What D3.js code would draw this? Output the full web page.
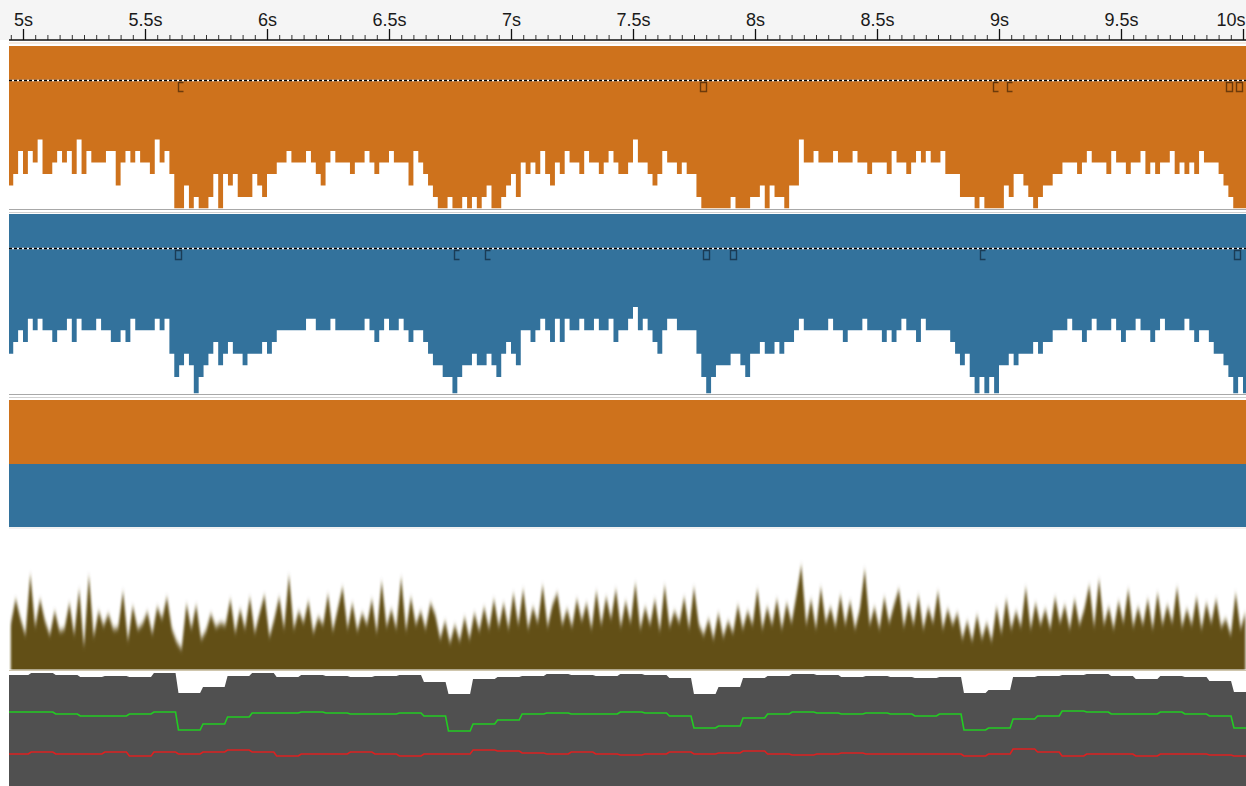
<!DOCTYPE html>
<html>
<head>
<meta charset="utf-8">
<script src="https://cdn.jsdelivr.net/npm/d3@7"></script>
<style>
  body { margin: 0; background: #fff; }
  svg { display: block; font-family: "Liberation Sans", Arial, sans-serif; }
</style>
</head>
<body>
<script>
// time axis
var majorTicks = [5, 5.5, 6, 6.5, 7, 7.5, 8, 8.5, 9, 9.5, 10];
var tickLabels = ["5s", "5.5s", "6s", "6.5s", "7s", "7.5s", "8s", "8.5s", "9s", "9.5s", "10s"];

// cpu samples, one every 20ms from 4.94s (idle level, 0 = fully busy)
var binStart = 4.94, binSize = 0.02;
var orangeCpu = [2,3,5,3,5,4,6,3,3,4,5,4,5,3,6,3,5,4,4,4,5,5,2,4,5,4,5,4,4,3,6,4,5,3,
  0,0,2,0,1,0,0,1,3,0,3,2,3,1,1,1,3,2,1,3,3,
  4,4,5,4,4,4,5,4,3,2,4,5,4,4,4,3,4,4,5,4,3,4,4,5,4,4,4,2,5,4,3,2,1,
  0,0,1,0,0,1,0,1,0,1,2,0,0,1,2,3,1,
  4,3,4,3,5,3,2,4,3,5,4,4,3,5,4,4,3,4,5,4,3,3,4,6,4,4,3,2,3,5,4,4,3,4,3,3,1,
  0,0,0,0,0,0,1,0,0,0,1,1,2,0,2,1,1,0,2,2,
  6,4,4,5,4,4,4,5,4,4,4,5,4,4,3,4,4,4,3,5,4,4,3,4,5,4,5,4,4,5,3,3,3,
  1,1,1,0,1,0,0,0,0,2,1,3,3,2,1,0,1,2,2,3,
  3,4,4,4,3,4,5,4,4,4,3,5,4,4,3,4,4,5,3,4,3,4,4,5,3,4,3,4,3,5,4,4,4,3,2,1,0,0,0];
var blueCpu = [3,4,5,4,6,5,6,5,5,4,5,5,6,4,6,5,5,5,6,5,5,4,4,5,4,6,5,5,5,5,6,5,6,3,
  1,2,3,2,0,1,2,3,4,2,3,4,3,3,2,3,3,3,4,3,4,
  5,5,5,5,5,5,6,6,5,5,5,6,5,5,5,5,5,5,6,5,4,5,6,5,5,6,5,4,5,5,4,3,2,
  2,1,1,0,1,2,2,3,2,2,3,2,1,3,4,3,2,
  5,5,4,5,6,5,4,6,4,6,5,5,6,5,5,6,5,5,6,4,5,5,6,7,5,6,5,4,3,5,6,6,5,5,5,5,3,
  1,0,1,2,2,2,3,3,2,1,3,3,4,3,3,4,3,4,4,5,
  6,5,5,5,5,5,6,5,5,4,5,5,5,6,5,5,5,4,5,4,5,6,5,5,4,6,5,5,5,5,5,4,3,
  2,3,1,0,1,0,1,0,2,2,3,2,3,3,3,4,3,4,4,5,
  5,5,6,5,5,4,5,6,5,5,5,6,5,4,5,5,6,5,5,4,5,6,5,5,5,5,6,5,4,5,5,4,3,3,2,1,0,1,0];

// markers under the dashed line
var orangeMarks = [[5.635, "open"], [7.775, "box"], [8.975, "open"], [9.033, "open"], [9.930, "box"], [9.971, "box"]];
var blueMarks = [[5.623, "box"], [6.766, "open"], [6.893, "open"], [7.787, "box"], [7.898, "box"], [8.922, "open"], [9.963, "box"]];

// brown rate graph, same 20ms bins
var brownRate = [45,70,50,34,95,42,70,48,34,58,38,40,66,34,80,22,94,32,58,43,
  55,40,41,78,28,63,40,45,57,35,62,50,72,40,27,20,65,40,64,30,
  38,55,42,46,44,70,36,60,40,72,36,56,74,32,50,72,40,94,40,58,
  46,68,36,52,44,75,38,60,82,40,66,38,56,44,70,36,88,42,60,40,
  92,38,72,44,58,40,66,54,30,48,26,44,28,52,30,56,38,62,40,70,
  42,66,40,76,44,80,40,62,46,84,42,64,76,44,60,42,70,48,66,40,
  78,44,72,50,80,42,68,46,86,40,62,44,70,38,84,42,58,46,72,40,
  82,44,34,50,30,56,32,48,36,64,40,58,44,80,40,62,44,70,40,66,
  46,74,104,44,70,40,82,46,62,42,74,44,68,40,60,100,44,62,40,72,
  46,64,80,42,66,44,74,40,62,46,78,40,60,44,56,30,48,28,54,30,
  46,28,62,36,70,40,58,42,82,40,66,44,60,40,72,46,64,40,70,44,
  60,84,42,90,44,62,40,68,46,80,42,62,44,70,40,76,44,64,46,82,
  42,60,44,72,40,66,46,70,42,50,34,76,40,56];

// stepped graphs, one value per ~100ms
var stepStart = 4.927, stepSize = 0.1006;
var grayLevel = [111,113,111,109,110,109,113,93,99,110,113,109,111,
  110,109,110,111,104,92,107,109,110,112,111,110,112,111,108,92,99,108,110,112,111,109,110,
  109,108,109,93,96,109,110,111,112,110,107,110,109,105,94];
var greenLevel = [74,74,72,70,70,72,74,56,62,69,73,73,74,
  73,72,72,73,70,55,62,66,72,73,72,72,74,73,70,58,60,68,72,74,73,72,73,
  72,70,72,56,58,67,70,75,74,72,72,74,72,70,58];
var redLevel = [32,34,32,32,34,30,34,32,34,36,34,30,32,
  32,34,32,30,32,32,36,35,33,32,34,32,31,32,34,32,33,35,32,31,32,33,32,
  32,32,32,30,32,37,34,30,32,32,30,32,32,31,30];

var W = 1246, H = 786, left = 9;
var orange = "#ce721c", blue = "#33729c", brown = "#624f19", gray = "#505050";

var svg = d3.select("body").append("svg").attr("width", W).attr("height", H);
var defs = svg.append("defs");
defs.append("clipPath").attr("id", "plot").append("rect")
  .attr("x", left).attr("y", 0).attr("width", W - left).attr("height", H);
defs.append("clipPath").attr("id", "brownclip").append("rect")
  .attr("x", left).attr("y", 529).attr("width", W - left).attr("height", 140.5);
defs.append("filter").attr("id", "soft").attr("x", "-5%").attr("y", "-20%").attr("width", "110%").attr("height", "140%")
  .append("feGaussianBlur").attr("stdDeviation", "0.8 3");

var x = d3.scaleLinear().domain([5, 10]).range([23, 1243]);

// header
svg.append("rect").attr("x", 0).attr("y", 0).attr("width", W).attr("height", 40).attr("fill", "#f5f5f5");

var minorTicks = d3.range(99, 202).map(function(d) { return d / 20; });
svg.append("g").attr("transform", "translate(0,40)")
  .call(d3.axisTop(x).tickValues(minorTicks).tickSize(5).tickFormat(""))
  .call(function(g) { g.select(".domain").remove(); g.selectAll("line").attr("stroke", "#333"); });
svg.append("g").attr("transform", "translate(0,40)")
  .call(d3.axisTop(x).tickValues(majorTicks).tickSize(11).tickPadding(3)
    .tickFormat(function(d, i) { return tickLabels[i]; }))
  .call(function(g) {
    g.select(".domain").remove();
    g.selectAll("line").attr("stroke", "#111").attr("stroke-width", 1.3);
    g.selectAll("text").attr("font-size", 18).attr("fill", "#1a1a1a")
      .attr("font-family", "'Liberation Sans', Arial, sans-serif")
      .attr("text-anchor", function(d) { return d == 10 ? "end" : "middle"; })
      .attr("dx", function(d) { return d == 10 ? 2 : 0; });
  });
svg.append("line").attr("x1", left).attr("x2", W).attr("y1", 40).attr("y2", 40).attr("stroke", "#111").attr("stroke-width", 1.3);
svg.append("line").attr("x1", left).attr("x2", W).attr("y1", 43).attr("y2", 43).attr("stroke", "#ecd6c0").attr("stroke-width", 1);

var plot = svg.append("g").attr("clip-path", "url(#plot)");

// cpu tracks
function cpuTrack(data, top, yScale, color, dashY, marks, markColor) {
  var bottom = yScale(0);
  plot.append("rect").attr("x", left).attr("y", top).attr("width", W - left).attr("height", bottom - top).attr("fill", color);
  var pts = data.map(function(v, i) { return [binStart + i * binSize, v]; });
  pts.push([binStart + data.length * binSize, data[data.length - 1]]);
  var area = d3.area().curve(d3.curveStepAfter)
    .x(function(d) { return x(d[0]); })
    .y0(bottom + 1).y1(function(d) { return yScale(d[1]); });
  plot.append("path").datum(pts).attr("d", area).attr("fill", "#fff");
  plot.append("line").attr("x1", left).attr("x2", W).attr("y1", dashY + 0.5).attr("y2", dashY + 0.5)
    .attr("stroke", "#fff").attr("stroke-width", 1.5);
  plot.append("line").attr("x1", left).attr("x2", W).attr("y1", dashY + 0.5).attr("y2", dashY + 0.5)
    .attr("stroke", "#000").attr("stroke-width", 1.5).attr("stroke-dasharray", "3,2");
  plot.selectAll(null).data(marks).enter().append("path")
    .attr("d", function(d) {
      var mx = Math.round(x(d[0])) + 0.5, y0 = dashY + 2.5, y1 = dashY + 11.5;
      if (d[1] == "box") return "M" + mx + "," + y0 + "h6v" + (y1 - y0) + "h-6z";
      return "M" + (mx + 5) + "," + y0 + "H" + mx + "V" + y1 + "H" + (mx + 5);
    })
    .attr("fill", "none").attr("stroke", markColor).attr("stroke-width", 1.4).attr("opacity", 0.85);
}

var yOrange = d3.scaleLinear().domain([0, 1, 6]).range([208.5, 197, 139.5]);
var yBlue = d3.scaleLinear().domain([0, 1, 7]).range([393.5, 377, 307]);
cpuTrack(orangeCpu, 46, yOrange, orange, 80, orangeMarks, "#5a3008");
cpuTrack(blueCpu, 214, yBlue, blue, 248, blueMarks, "#16324a");

function hline(y, c) {
  svg.append("line").attr("x1", left).attr("x2", W).attr("y1", y).attr("y2", y).attr("stroke", c).attr("stroke-width", 1);
}
hline(209.5, "#a8a8a8"); hline(212.5, "#d0d0d0");
hline(394.5, "#a8a8a8"); hline(397.5, "#d0d0d0");

// flat bars
plot.append("rect").attr("x", left).attr("y", 400).attr("width", W - left).attr("height", 64).attr("fill", orange);
plot.append("rect").attr("x", left).attr("y", 464).attr("width", W - left).attr("height", 63).attr("fill", blue);
hline(528, "#e4e4e4");

// brown rate graph
var yBrown = d3.scaleLinear().domain([0, 110]).range([669, 559]);
var brownArea = d3.area().curve(d3.curveLinear)
  .x(function(d, i) { return x(binStart + (i + 0.5) * binSize); })
  .y0(690).y1(function(d) { return yBrown(d); });
svg.append("g").attr("clip-path", "url(#brownclip)")
  .append("path").datum(brownRate).attr("d", brownArea).attr("fill", brown).attr("filter", "url(#soft)");
hline(670.5, "#cfc6ad");

// stepped graphs
var yStep = d3.scaleLinear().domain([0, 114]).range([786, 672]);
function stepPoints(data) {
  var pts = [];
  data.forEach(function(v, k) {
    pts.push([stepStart + k * stepSize + 0.006, v]);
    pts.push([stepStart + (k + 1) * stepSize - 0.006, v]);
  });
  return pts;
}
var grayArea = d3.area().x(function(d) { return x(d[0]); }).y0(786).y1(function(d) { return yStep(d[1]); });
var stepLine = d3.line().x(function(d) { return x(d[0]); }).y(function(d) { return yStep(d[1]); });
plot.append("path").datum(stepPoints(grayLevel)).attr("d", grayArea).attr("fill", gray);
plot.append("path").datum(stepPoints(greenLevel)).attr("d", stepLine).attr("fill", "none").attr("stroke", "#22cc22").attr("stroke-width", 1.6);
plot.append("path").datum(stepPoints(redLevel)).attr("d", stepLine).attr("fill", "none").attr("stroke", "#dd2020").attr("stroke-width", 1.6);
</script>
</body>
</html>
